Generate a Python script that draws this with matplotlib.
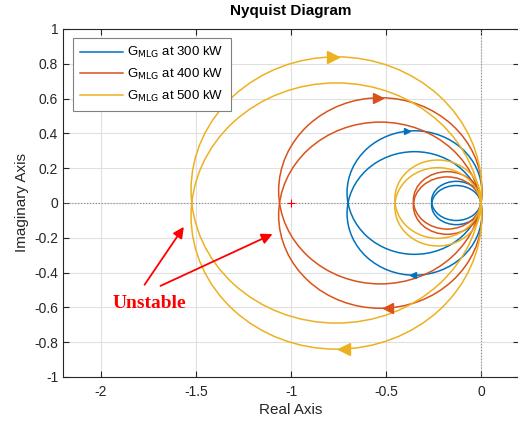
import matplotlib
matplotlib.use('Agg')
import matplotlib.pyplot as plt
from matplotlib.patches import Ellipse

plt.rcParams['font.family'] = ['Liberation Sans', 'DejaVu Sans']

# ── Data ──────────────────────────────────────────────────────────────────────
labels = ['300 kW', '400 kW', '500 kW']
colors = ['#0072BD', '#D95319', '#EDB120']

# large loops (positive-frequency branch, near-circles through the origin);
# the negative-frequency branch is the mirror image in the real axis
big_cx = [-0.350, -0.530, -0.761]
big_cy = [0.060, 0.070, 0.075]
big_r  = [0.355, 0.535, 0.765]

# small loops near the origin
small_cx = [-0.130, -0.178, -0.227]
small_cy = [0.012, 0.015, 0.022]
small_w  = [0.260, 0.356, 0.453]
small_h  = [0.225, 0.330, 0.450]

# direction arrows (top: positive branch, bottom: mirrored branch)
arrow_top_x = [-0.39, -0.54, -0.78]
arrow_top_y = [0.413, 0.605, 0.839]
arrow_bot_x = [-0.36, -0.49, -0.72]
arrow_bot_y = [-0.414, -0.603, -0.838]
arrow_size  = [5, 7, 9]

xticks = [-2, -1.5, -1, -0.5, 0]
xtick_labels = ['-2', '-1.5', '-1', '-0.5', '0']
yticks = [-1, -0.8, -0.6, -0.4, -0.2, 0, 0.2, 0.4, 0.6, 0.8, 1]
ytick_labels = ['-1', '-0.8', '-0.6', '-0.4', '-0.2', '0', '0.2', '0.4', '0.6', '0.8', '1']

# ── Figure ────────────────────────────────────────────────────────────────────
fig = plt.figure(figsize=(5.18, 4.25), dpi=100)
ax = fig.add_axes([63 / 518, 48 / 425, 456 / 518, 348 / 425])

for i in range(3):
    c = colors[i]
    for sgn in (1, -1):
        ax.add_patch(Ellipse((big_cx[i], sgn * big_cy[i]), 2 * big_r[i], 2 * big_r[i],
                             fill=False, edgecolor=c, lw=1.1, zorder=3))
        ax.add_patch(Ellipse((small_cx[i], sgn * small_cy[i]), small_w[i], small_h[i],
                             fill=False, edgecolor=c, lw=1.1, zorder=3))
    ax.plot(arrow_top_x[i], arrow_top_y[i], marker='>', color=c, ms=arrow_size[i],
            ls='none', zorder=4)
    ax.plot(arrow_bot_x[i], arrow_bot_y[i], marker='<', color=c, ms=arrow_size[i],
            ls='none', zorder=4)
    ax.plot([], [], color=c, lw=1.1, label=r'G$_{\mathrm{MLG}}$ at ' + labels[i])

# critical point
ax.plot(-1, 0, marker='+', color='red', ms=6, mew=0.8, ls='none', zorder=4)

# zero lines
ax.axhline(0, color='0.55', lw=0.8, ls=':', zorder=1)
ax.axvline(0, color='0.55', lw=0.8, ls=':', zorder=1)

# annotation
ax.text(-1.747, -0.575, 'Unstable', color='red', fontsize=14, fontweight='bold',
        family='Liberation Serif', ha='center', va='center')
arrow_kw = dict(arrowstyle='-|>', color='red', lw=1.3, mutation_scale=16)
ax.annotate('', xy=(-1.556, -0.124), xytext=(-1.779, -0.483), arrowprops=arrow_kw)
ax.annotate('', xy=(-1.084, -0.172), xytext=(-1.70, -0.483), arrowprops=arrow_kw)

ax.set_xlim(-2.2, 0.2)
ax.set_ylim(-1, 1)
ax.set_xticks(xticks)
ax.set_xticklabels(xtick_labels)
ax.set_yticks(yticks)
ax.set_yticklabels(ytick_labels)
ax.grid(True, color='0.88', lw=0.8, zorder=0)
ax.set_axisbelow(True)
ax.tick_params(direction='in', top=True, right=True, length=4, width=0.8,
               labelsize=10, colors='0.15')
ax.tick_params(axis='x', pad=6)
for s in ax.spines.values():
    s.set_color('0.15')
    s.set_linewidth(0.8)

ax.set_xlabel('Real Axis', fontsize=11, color='0.15', labelpad=3)
ax.set_ylabel('Imaginary Axis', fontsize=11, color='0.15')
ax.set_title('Nyquist Diagram', fontsize=11, fontweight='bold', pad=10)

leg = ax.legend(loc='upper left', bbox_to_anchor=(0.022, 0.974), borderaxespad=0,
                fancybox=False, framealpha=1, edgecolor='0.5', fontsize=9.5,
                handlelength=3.2, handletextpad=0.35, labelspacing=0.5,
                borderpad=0.55)
leg.get_frame().set_linewidth(0.8)

fig.savefig('out.png', dpi=100)
